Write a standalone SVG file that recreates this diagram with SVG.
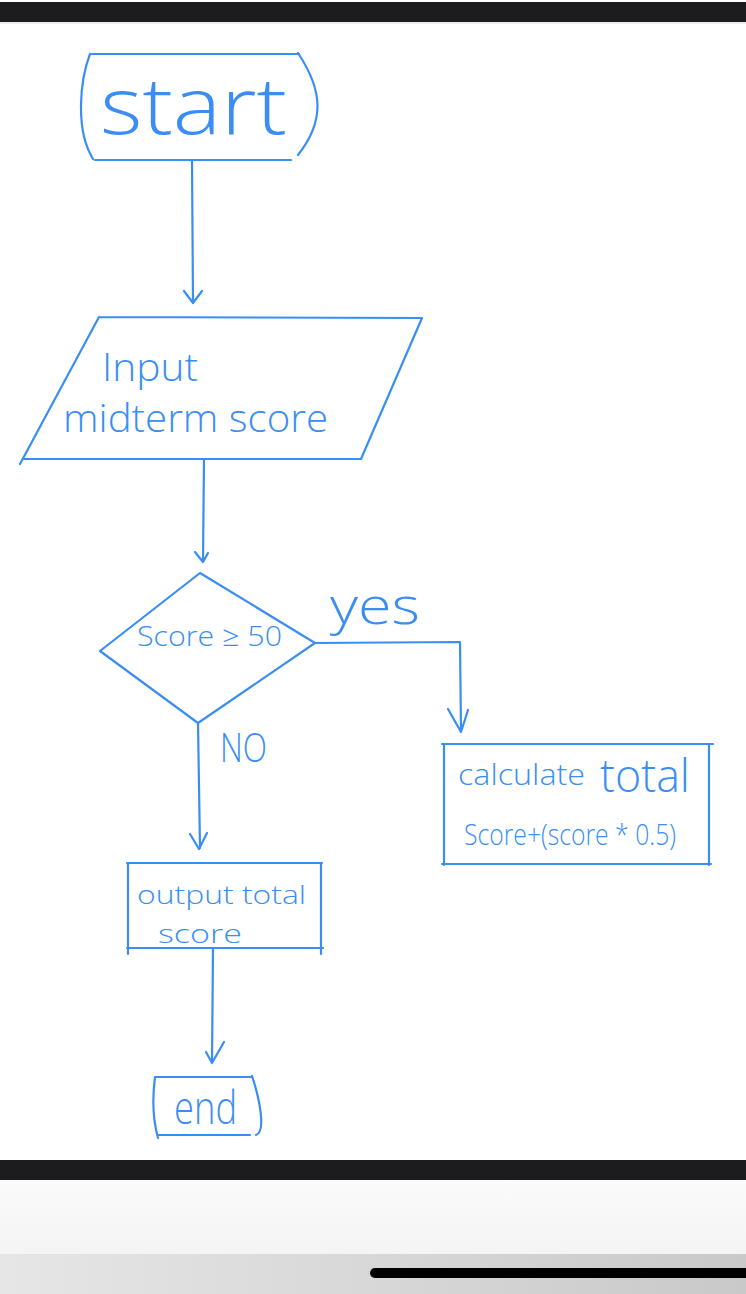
<svg xmlns="http://www.w3.org/2000/svg" width="746" height="1294" viewBox="0 0 746 1294">
<defs>
<style>
.s{fill:none;stroke:#3a8ef3;stroke-width:2.2;stroke-linecap:round;stroke-linejoin:round}
.t{fill:#3a8ef3;font-family:"Open Sans","Liberation Sans",sans-serif;font-weight:300}
</style>
<linearGradient id="g1" x1="0" y1="0" x2="1" y2="0"><stop offset="0" stop-color="#e6e6e6"/><stop offset="1" stop-color="#c9c9c9"/></linearGradient>
<linearGradient id="g2" x1="0" y1="0" x2="0" y2="1"><stop offset="0" stop-color="#fbfbfb"/><stop offset="1" stop-color="#f4f4f4"/></linearGradient>
</defs>
<rect width="746" height="1294" fill="#ffffff"/>
<rect y="2" width="746" height="20" fill="#1c1c1e"/>
<rect y="22" width="746" height="2" fill="#ececec"/>
<rect y="1160" width="746" height="20" fill="#1c1c1e"/>
<rect y="1180" width="746" height="74" fill="url(#g2)"/>
<rect y="1254" width="746" height="40" fill="url(#g1)"/>
<rect x="370" y="1268" width="400" height="10" rx="5" fill="#000000"/>

<g id="connectors">
<path class="s" d="M192,160 L193,303 M184,291 L193,303 L202,291"/>
<path class="s" d="M204,459 L203,562 M195,552 L203,562 L208,553"/>
<path class="s" d="M315,643 L460,642 L461,732 M448,709 L461,732 L468,710"/>
<path class="s" d="M198,723 L200,848 M190,834 L199,849 L207,833"/>
<path class="s" d="M213,948 L212,1063 M206,1052 L212,1063 L224,1042"/>
</g>

<g id="start">
<path class="s" d="M92,54 L299,54 M95,160 L291,160 M90,54 C80,80 75,130 93,159 M298,53 C324,92 324,122 298,155"/>
<text class="t" x="100" y="134" font-size="80" textLength="187" lengthAdjust="spacingAndGlyphs">start</text>
</g>

<g id="input">
<path class="s" d="M99,317 L422,318 L361,459 L24,459 M99,317 L20,464"/>
<text class="t" x="102" y="381" font-size="38" textLength="96" lengthAdjust="spacingAndGlyphs">Input</text>
<text class="t" x="63" y="432" font-size="38" textLength="265" lengthAdjust="spacingAndGlyphs">midterm score</text>
</g>

<g id="decision">
<path class="s" d="M200,573 L315,643 L198,723 L100,651 Z"/>
<text class="t" x="137" y="646" font-size="28" textLength="145" lengthAdjust="spacingAndGlyphs">Score ≥ 50</text>
</g>

<text class="t" x="330" y="624" font-size="52" textLength="90" lengthAdjust="spacingAndGlyphs">yes</text>
<text class="t" x="220" y="762" font-size="40" textLength="47" lengthAdjust="spacingAndGlyphs">NO</text>

<g id="calculate">
<path class="s" d="M442,744 L713,744 M444,744 L444,865 M709,744 L709,865 M442,864 L711,864"/>
<text class="t" x="458" y="785" font-size="30" textLength="127" lengthAdjust="spacingAndGlyphs">calculate</text>
<text class="t" x="600" y="792" font-size="46" textLength="90" lengthAdjust="spacingAndGlyphs">total</text>
<text class="t" x="464" y="845" font-size="30" textLength="212" lengthAdjust="spacingAndGlyphs">Score+(score * 0.5)</text>
</g>

<g id="output">
<path class="s" d="M127,863 L322,863 M128,863 L128,954 M321,863 L321,954 M127,948 L323,948"/>
<text class="t" x="137" y="904" font-size="26" textLength="169" lengthAdjust="spacingAndGlyphs">output total</text>
<text class="t" x="158" y="943" font-size="26" textLength="84" lengthAdjust="spacingAndGlyphs">score</text>
</g>

<g id="end">
<path class="s" d="M156,1077 L252,1077 M158,1135 L250,1135 M155,1077 C152,1100 153,1120 158,1138 M252,1076 C260,1100 266,1132 256,1135"/>
<text class="t" x="174" y="1124" font-size="46" textLength="63" lengthAdjust="spacingAndGlyphs">end</text>
</g>
</svg>
